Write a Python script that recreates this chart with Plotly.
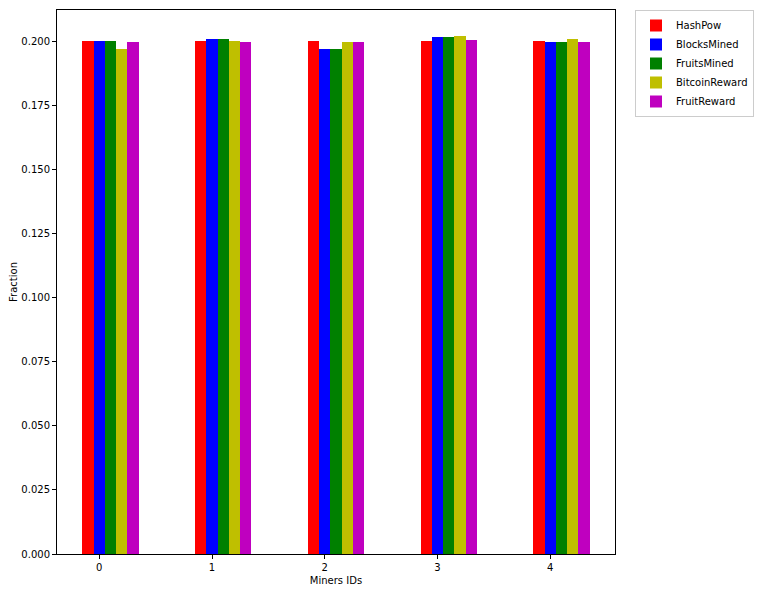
import plotly.graph_objects as go

miners = [0, 1, 2, 3, 4]
series_names = ["HashPow", "BlocksMined", "FruitsMined", "BitcoinReward", "FruitReward"]
colors = ["#ff0000", "#0000ff", "#008000", "#bfbf00", "#bf00bf"]
hashpow = [0.2000, 0.2000, 0.2000, 0.2000, 0.2000]
blocks_mined = [0.2000, 0.2008, 0.1969, 0.2016, 0.1996]
fruits_mined = [0.2000, 0.2008, 0.1969, 0.2016, 0.1996]
bitcoin_reward = [0.1969, 0.2000, 0.1996, 0.2020, 0.2008]
fruit_reward = [0.1996, 0.1996, 0.1996, 0.2004, 0.1996]
values = [hashpow, blocks_mined, fruits_mined, bitcoin_reward, fruit_reward]
offsets = [-0.1, 0.0, 0.1, 0.2, 0.3]
bar_width = 0.1

fig = go.Figure()
for name, col, vals, off in zip(series_names, colors, values, offsets):
    fig.add_trace(go.Bar(
        x=[m + off for m in miners], y=vals, name=name,
        marker=dict(color=col, line=dict(width=0)), width=bar_width,
    ))

axis_common = dict(
    showgrid=False, zeroline=False, showline=True, linecolor="black", linewidth=1,
    mirror=True, ticks="outside", ticklen=4, tickcolor="black",
    tickfont=dict(family="DejaVu Sans", size=10, color="black"),
)
fig.update_layout(
    width=758, height=592,
    margin=dict(l=57, r=143, t=10, b=38, autoexpand=False),
    plot_bgcolor="white", paper_bgcolor="white",
    barmode="overlay", bargap=0,
    font=dict(family="DejaVu Sans", size=10, color="black"),
    xaxis=dict(range=[-0.375, 4.575], tickvals=miners, ticktext=[str(m) for m in miners],
               title=dict(text="Miners IDs", font=dict(size=10), standoff=4), **axis_common),
    yaxis=dict(range=[0, 0.2122], tickvals=[i * 0.025 for i in range(9)], tickformat=".3f",
               title=dict(text="Fraction", font=dict(size=10), standoff=1), **axis_common),
    legend=dict(xref="container", yref="container", x=635 / 758, y=1 - 10 / 592,
                xanchor="left", yanchor="top", bordercolor="#cccccc",
                borderwidth=1, font=dict(size=10), tracegroupgap=0, itemsizing="constant",
                itemwidth=30),
    showlegend=True,
)
fig.write_html("out.html")
